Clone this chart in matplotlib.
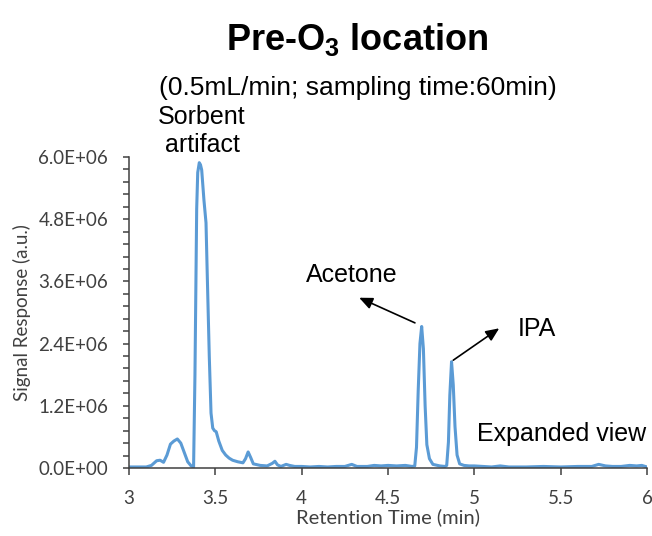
import numpy as np
import matplotlib
matplotlib.use('Agg')
import matplotlib.pyplot as plt
from matplotlib.ticker import MultipleLocator, FuncFormatter

plt.rcParams['mathtext.fontset'] = 'custom'
plt.rcParams['mathtext.rm'] = 'Liberation Sans'
plt.rcParams['mathtext.bf'] = 'Liberation Sans:bold'

# retention time (min) / signal (x1e6 a.u.)
time = [3.00, 3.10, 3.13, 3.16, 3.18, 3.20, 3.22, 3.24, 3.26, 3.28, 3.30, 3.32,
        3.34, 3.36, 3.374, 3.382, 3.392, 3.398, 3.407, 3.414, 3.421, 3.434,
        3.446, 3.453, 3.465, 3.475, 3.485, 3.495, 3.505, 3.52, 3.54, 3.56, 3.58,
        3.60, 3.63, 3.66, 3.675, 3.69, 3.705, 3.72, 3.76, 3.80, 3.83, 3.845, 3.86,
        3.88, 3.91, 3.93, 3.96, 4.00, 4.05, 4.10, 4.15, 4.20, 4.25, 4.29, 4.32,
        4.38, 4.42, 4.46, 4.50, 4.55, 4.60, 4.64, 4.655, 4.665, 4.675, 4.685,
        4.695, 4.705, 4.715, 4.725, 4.74, 4.76, 4.80, 4.83, 4.84, 4.85, 4.858,
        4.868, 4.878, 4.888, 4.90, 4.915, 4.94, 4.97, 5.00, 5.05, 5.10, 5.15,
        5.20, 5.30, 5.40, 5.50, 5.60, 5.68, 5.72, 5.76, 5.80, 5.85, 5.90, 5.94,
        5.97, 6.00]
signal = [0.02, 0.02, 0.05, 0.14, 0.15, 0.11, 0.25, 0.46, 0.52, 0.56, 0.48, 0.30,
          0.12, 0.04, 0.02, 1.80, 5.00, 5.70, 5.89, 5.85, 5.75, 5.17,
          4.73, 3.76, 2.15, 1.06, 0.77, 0.72, 0.70, 0.52, 0.34, 0.25, 0.19,
          0.15, 0.12, 0.10, 0.18, 0.31, 0.20, 0.08, 0.05, 0.04, 0.09, 0.13, 0.06,
          0.03, 0.07, 0.05, 0.03, 0.03, 0.02, 0.03, 0.02, 0.03, 0.03, 0.07, 0.03,
          0.03, 0.05, 0.04, 0.05, 0.04, 0.05, 0.03, 0.04, 0.40, 1.50, 2.40,
          2.73, 2.30, 1.20, 0.45, 0.18, 0.07, 0.04, 0.03, 0.05, 0.50, 1.40,
          2.05, 1.60, 0.80, 0.25, 0.08, 0.05, 0.04, 0.04, 0.03, 0.02, 0.04,
          0.02, 0.02, 0.03, 0.02, 0.03, 0.03, 0.07, 0.04, 0.03, 0.03, 0.05, 0.04,
          0.05, 0.02]

time = np.array(time)
signal = np.array(signal) * 1e6

fig = plt.figure(figsize=(6.52, 5.36), dpi=100)
ax = fig.add_axes([129 / 652, 1 - 468 / 536, 518 / 652, 311 / 536])

ax.plot(time, signal, color='#5B9BD5', lw=2.2, solid_joinstyle='round')

ax.set_xlim(3, 6)
ax.set_ylim(0, 6e6)
ax.xaxis.set_major_locator(MultipleLocator(0.5))
ax.xaxis.set_major_formatter(FuncFormatter(lambda v, p: f'{v:g}'))
ax.yaxis.set_major_locator(MultipleLocator(1.2e6))
ax.yaxis.set_minor_locator(MultipleLocator(0.24e6))
ax.yaxis.set_major_formatter(FuncFormatter(lambda v, p: f'{v:.1E}'))

for s in ['top', 'right']:
    ax.spines[s].set_visible(False)
for s in ['left', 'bottom']:
    ax.spines[s].set_color('#404040')
    ax.spines[s].set_linewidth(1.1)

ax.tick_params(axis='both', which='both', direction='out', color='#404040',
               labelcolor='#404040', width=1.1)
ax.tick_params(axis='y', which='both', length=4, pad=11, labelsize=13.5)
ax.tick_params(axis='x', which='major', length=5, pad=11, labelsize=13.5)
for lab in ax.get_xticklabels() + ax.get_yticklabels():
    lab.set_fontfamily('Lato')

ax.set_xlabel('Retention Time (min)', fontfamily='Lato', fontsize=14.5,
              color='#404040', labelpad=1)
ax.set_ylabel('Signal Response (a.u.)', fontfamily='Lato', fontsize=13.5,
              color='#404040', labelpad=5)

# peak labels
fs = 18
ax.text(3.423, 6.5e6, 'Sorbent\nartifact', ha='center', va='center',
        fontsize=fs, fontfamily='Liberation Sans', linespacing=1.25, clip_on=False)
ax.annotate('', xy=(4.333, 3.285e6), xytext=(4.656, 2.80e6),
            arrowprops=dict(arrowstyle='-|>,head_length=0.8,head_width=0.35',
                            color='black', lw=1.2, shrinkA=0, shrinkB=0))
ax.text(4.291, 3.73e6, 'Acetone', ha='center', va='center', fontsize=fs,
        fontfamily='Liberation Sans')
ax.annotate('', xy=(5.144, 2.695e6), xytext=(4.878, 2.08e6),
            arrowprops=dict(arrowstyle='-|>,head_length=0.8,head_width=0.35',
                            color='black', lw=1.2, shrinkA=0, shrinkB=0))
ax.text(5.252, 2.69e6, 'IPA', ha='left', va='center', fontsize=fs,
        fontfamily='Liberation Sans')
ax.text(5.015, 0.52e6, 'Expanded view', ha='left', va='baseline', fontsize=fs,
        fontfamily='Liberation Sans')

fig.text(357.5 / 652, 1 - 40 / 536, r'Pre-O$_\mathbf{3}$ location', ha='center',
         va='center', fontsize=26, fontweight='bold', fontfamily='Liberation Sans')
fig.text(357.5 / 652, 1 - 88 / 536, '(0.5mL/min; sampling time:60min)',
         ha='center', va='center', fontsize=19, fontfamily='Liberation Sans')

fig.savefig('out.png', dpi=100)
